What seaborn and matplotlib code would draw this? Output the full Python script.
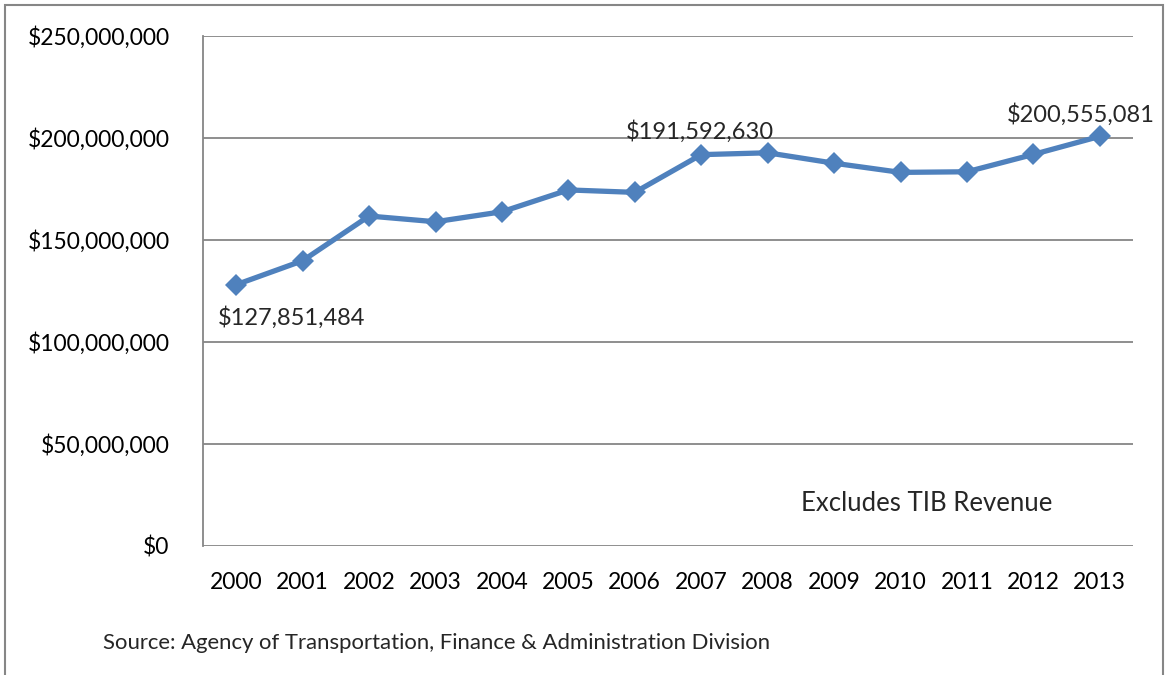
import pandas as pd
import matplotlib.pyplot as plt
import matplotlib.ticker as mticker
from matplotlib.patches import Rectangle
import seaborn as sns

years = ['2000', '2001', '2002', '2003', '2004', '2005', '2006',
         '2007', '2008', '2009', '2010', '2011', '2012', '2013']
revenue = [127851484, 139600000, 161500000, 158700000, 163600000, 174300000, 173100000,
           191592630, 192500000, 187400000, 182900000, 183200000, 191700000, 200555081]
labelled = {'2000': '$127,851,484', '2007': '$191,592,630', '2013': '$200,555,081'}

sns.set_style('white')
plt.rcParams['font.family'] = ['Lato', 'DejaVu Sans']

df = pd.DataFrame({'year': years, 'revenue': revenue})

fig = plt.figure(figsize=(11.69, 6.75), dpi=100)
W, H = 1169, 675
ax = fig.add_axes([203 / W, 1 - 545.5 / H, (1133 - 203) / W, (545.5 - 35.5) / H])

sns.lineplot(data=df, x='year', y='revenue', ax=ax, color='#4F81BD',
             linewidth=3.8, marker='D', markersize=11, markeredgewidth=0)

ax.set_xlim(-0.5, len(years) - 0.5)
ax.set_ylim(0, 250000000)
ax.set_yticks(range(0, 250000001, 50000000))
ax.yaxis.set_major_formatter(mticker.FuncFormatter(lambda v, p: f'${v:,.0f}'))
ax.grid(axis='y', color='#868686', linewidth=1.3)
ax.set_axisbelow(True)
ax.tick_params(axis='both', length=0, labelsize=16.5, colors='black')
ax.tick_params(axis='y', pad=24)
ax.tick_params(axis='x', pad=19)
ax.set_xlabel('')
ax.set_ylabel('')
for side in ['top', 'right', 'bottom']:
    ax.spines[side].set_visible(False)
ax.spines['left'].set_color('#868686')
ax.spines['left'].set_linewidth(1.3)

# data labels
offsets = {'2000': (-18, -22, 'left', 'top'),
           '2007': (-1, 12, 'center', 'bottom'),
           '2013': (-19, 11, 'center', 'bottom')}
for yr, txt in labelled.items():
    i = years.index(yr)
    dx, dy, ha, va = offsets[yr]
    ax.annotate(txt, (i, revenue[i]), xytext=(dx, dy), textcoords='offset pixels',
                ha=ha, va=va, fontsize=17)

ax.text(0.643, 0.082, 'Excludes TIB Revenue', transform=ax.transAxes,
        fontsize=18.5, ha='left', va='center')

fig.text(103 / W, 1 - 643 / H, 'Source: Agency of Transportation, Finance & Administration Division',
         fontsize=15.9, ha='left', va='center')

# outer chart border
fig.patches.append(Rectangle((5 / W, -0.05), (1163 - 5) / W, (1 - 5 / H) + 0.05,
                             transform=fig.transFigure, fill=False,
                             edgecolor='#868686', linewidth=1.5))

fig.savefig('out.png', dpi=100)
